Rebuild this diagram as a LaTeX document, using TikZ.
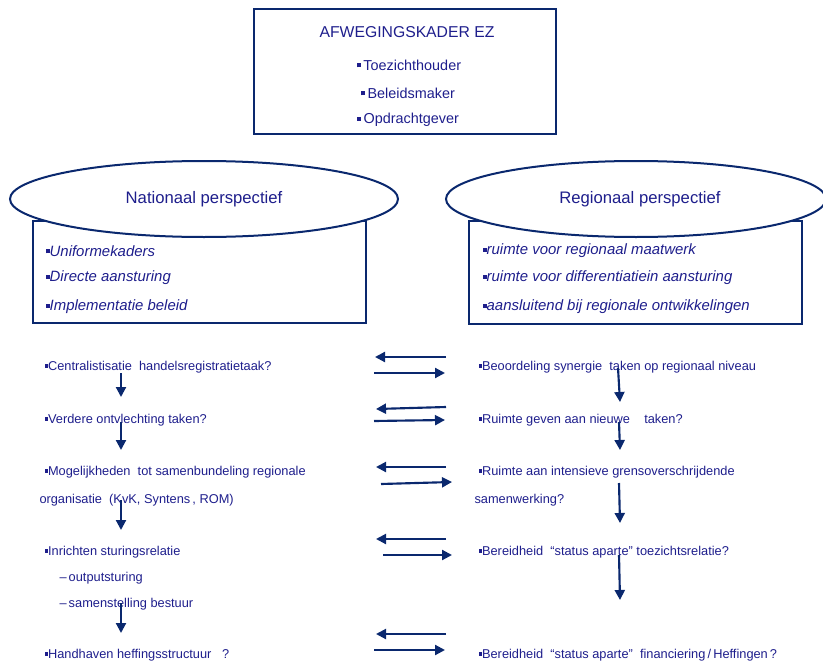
\documentclass[tikz,border=0pt]{standalone}
\usepackage{fontspec}
\setmainfont{Liberation Sans}
\usetikzlibrary{arrows.meta,shapes.geometric}

\definecolor{ezblue}{RGB}{30,30,140}
\definecolor{ezline}{RGB}{10,40,110}
\newcommand{\sqbul}{\rule[0.2em]{0.28em}{0.28em}}

\tikzset{every picture/.style={line width=0.75pt}}
\tikzset{
	coltext/.style={anchor=west, inner sep=0.75pt, text=ezblue, font=\fontsize{9.6}{11}\selectfont},
	itemtext/.style={anchor=west, inner sep=0.75pt, text=ezblue, font=\fontsize{11.2}{13}\selectfont\itshape},
	kadertext/.style={inner sep=0.75pt, text=ezblue, font=\fontsize{10.8}{12}\selectfont},
	frame/.style={draw=ezline, line width=1.5pt, rectangle, inner sep=0pt},
	persp/.style={draw=ezline, line width=1.5pt, ellipse, fill=white, inner sep=0pt, text=ezblue, font=\fontsize{12.5}{14}\selectfont},
	arr/.style={draw=ezline, line width=1.6pt, -{Triangle[length=7.5pt,width=7.5pt]}},
}

\begin{document}
\begin{tikzpicture}[x=0.75pt,y=0.75pt,yscale=-1,xscale=1]
		\useasboundingbox (0,0) rectangle (823,663);
		
		%Shape: Rectangle [kader]
		\node [frame, minimum width=226.5pt, minimum height=93.75pt] (kader) at (405,71.5) {};
		% Text Node
		\node [kadertext, font=\fontsize{11.8}{13}\selectfont] (titel) at (407,32) {AFWEGINGSKADER EZ};
		\node [kadertext] (toezicht) at (409,65) {\sqbul\,Toezichthouder};
		\node [kadertext] (beleid) at (408,93) {\sqbul\,Beleidsmaker};
		\node [kadertext] (opdracht) at (408,120) {\sqbul\,Opdrachtgever};
		
		%Shape: Rectangle [boxes under the ellipses]
		\node [frame, minimum width=249.75pt, minimum height=76.5pt] (natbox) at (199.5,272) {};
		\node [frame, minimum width=249.75pt, minimum height=77.25pt] (regbox) at (635.5,272.5) {};
		%Shape: Ellipse
		\node [persp, minimum width=291pt, minimum height=57pt] (nat) at (204,199) {Nationaal perspectief};
		\node [persp, minimum width=285pt, minimum height=57pt] (reg) at (636,199) {\hspace*{6pt}Regionaal perspectief};
		
		% Text Node
		\node [itemtext] (nat1) at (44,251) {\sqbul Uniformekaders};
		\node [itemtext] (nat2) at (44,278) {\sqbul Directe aansturing};
		\node [itemtext] (nat3) at (44,307) {\sqbul Implementatie beleid};
		\node [itemtext] (reg1) at (481,251) {\sqbul ruimte voor regionaal maatwerk};
		\node [itemtext] (reg2) at (481,278) {\sqbul ruimte voor differentiatiein aansturing};
		\node [itemtext] (reg3) at (481,307) {\sqbul aansluitend bij regionale ontwikkelingen};
		
		% Text Node (left column)
		\node [coltext] (l1) at (43,367) {\sqbul Centralistisatie\ \ handelsregistratietaak?};
		\node [coltext] (l2) at (43,420) {\sqbul Verdere ontvlechting taken?};
		\node [coltext] (l3) at (43,472) {\sqbul Mogelijkheden\ \ tot samenbundeling regionale};
		\node [coltext] (l3b) at (38,500) {organisatie\ \ (KvK, Syntens\,, ROM)};
		\node [coltext] (l4) at (43,552) {\sqbul Inrichten sturingsrelatie};
		\node [coltext] (l4a) at (58,578) {--\,outputsturing};
		\node [coltext] (l4b) at (58,604) {--\,samenstelling bestuur};
		\node [coltext] (l5) at (43,655) {\sqbul Handhaven heffingsstructuur\ \ \ ?};
		
		% Text Node (right column)
		\node [coltext] (r1) at (477,367) {\sqbul Beoordeling synergie\ \ taken op regionaal niveau};
		\node [coltext] (r2) at (477,420) {\sqbul Ruimte geven aan nieuwe\ \ \ \ taken?};
		\node [coltext] (r3) at (477,472) {\sqbul Ruimte aan intensieve grensoverschrijdende};
		\node [coltext] (r3b) at (473,500) {samenwerking?};
		\node [coltext] (r4) at (477,552) {\sqbul Bereidheid\ \ ``status aparte'' toezichtsrelatie?};
		\node [coltext] (r5) at (477,655) {\sqbul Bereidheid\ \ ``status aparte''\ \ financiering\,/\,Heffingen\,?};
		
		% Coordinates for the arrows
		\coordinate (la1) at (121,373); \coordinate (lb1) at (121,397);
		\coordinate (la2) at (121,422); \coordinate (lb2) at (121,450);
		\coordinate (la3) at (121,500); \coordinate (lb3) at (121,530);
		\coordinate (la4) at (121,603); \coordinate (lb4) at (121,633);
		\coordinate (ra1) at (618,368); \coordinate (rb1) at (620,402);
		\coordinate (ra2) at (619,422); \coordinate (rb2) at (620,450);
		\coordinate (ra3) at (619,483); \coordinate (rb3) at (620,523);
		\coordinate (ra4) at (619,555); \coordinate (rb4) at (620,600);
		
		\coordinate (hn1) at (446,357); \coordinate (hm1) at (375,357);
		\coordinate (hp1) at (374,373); \coordinate (hq1) at (445,373);
		\coordinate (hn2) at (446,407); \coordinate (hm2) at (376,409);
		\coordinate (hp2) at (374,421); \coordinate (hq2) at (445,420);
		\coordinate (hn3) at (446,467); \coordinate (hm3) at (376,467);
		\coordinate (hp3) at (381,484); \coordinate (hq3) at (452,482);
		\coordinate (hn4) at (446,539); \coordinate (hm4) at (376,539);
		\coordinate (hp4) at (383,555); \coordinate (hq4) at (452,555);
		\coordinate (hn5) at (446,634); \coordinate (hm5) at (376,634);
		\coordinate (hp5) at (374,650); \coordinate (hq5) at (445,650);
		
		%Straight Lines (down arrows)
		\foreach \i in {1,...,4} {
			\draw [arr] (la\i) -- (lb\i);
			\draw [arr] (ra\i) -- (rb\i);
		}
		%Straight Lines (arrows between the columns)
		\foreach \i in {1,...,5} {
			\draw [arr] (hn\i) -- (hm\i);
			\draw [arr] (hp\i) -- (hq\i);
		}
		
	\end{tikzpicture}
\end{document}
